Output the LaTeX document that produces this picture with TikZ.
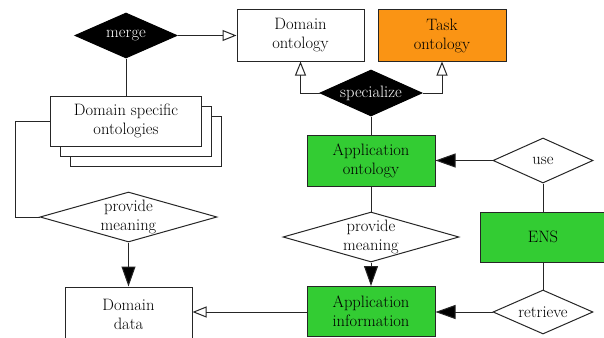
\documentclass[tikz,border=0pt]{standalone}
\usepackage{fontspec}
\usetikzlibrary{shapes.geometric,arrows.meta}
\definecolor{appgreen}{RGB}{51,204,51}
\definecolor{taskorange}{RGB}{250,148,20}
\tikzset{
  txt/.style={font=\fontsize{16.5}{19}\selectfont\addfontfeatures{LetterSpace=6}},
  box/.style={draw=black!85, line width=1pt, fill=white, rectangle, inner sep=0pt, align=center, txt},
  dia/.style={draw=black!85, line width=1pt, fill=white, diamond, inner sep=0pt},
  blackdia/.style={dia, fill=black, draw=black},
  lbl/.style={txt, align=center, inner sep=0pt},
  conn/.style={line width=1pt, draw=black!85},
  openarr/.style={conn, -{Triangle[open,length=14pt,width=11pt]}},
  fillarr/.style={conn, -{Triangle[length=20pt,width=14pt,fill=black]}},
}
\begin{document}
\begin{tikzpicture}[x=1pt,y=-1pt]
\useasboundingbox (0,0) rectangle (604,337);
\clip (0,0) rectangle (604,337);

% top row
\node[blackdia, minimum width=102pt, minimum height=45pt,
  label={[lbl,text=white]center:merge}] (merge) at (126,35.5) {};
\node[box, minimum width=127pt, minimum height=51pt] (domonto) at (300.5,35.5) {Domain\\ontology};
\node[box, fill=taskorange, minimum width=128pt, minimum height=51pt] (taskonto) at (442,35.5) {Task\\ontology};

% domain specific ontologies (stacked)
\node[box, minimum width=151pt, minimum height=50pt] (dso3) at (146,141) {};
\node[box, minimum width=151pt, minimum height=50pt] (dso2) at (136,131) {};
\node[box, minimum width=151pt, minimum height=50pt] (dso) at (126,121) {Domain specific\\ontologies};

% specialize
\node[blackdia, minimum width=102pt, minimum height=46pt,
  label={[lbl,text=white]center:specialize}] (spec) at (371,93) {};

% application ontology
\node[box, fill=appgreen, minimum width=128pt, minimum height=51pt] (appont) at (371,160.5) {Application\\ontology};
\node[dia, minimum width=100pt, minimum height=45pt,
  label={[lbl]center:use}] (use) at (543,160.5) {};

% ENS
\node[box, fill=appgreen, minimum width=126pt, minimum height=50pt] (ens) at (543,237) {ENS};

% provide meaning diamonds
\node[dia, minimum width=176pt, minimum height=50pt,
  label={[lbl]center:provide\\meaning}] (pmR) at (371,237) {};
\node[dia, minimum width=177pt, minimum height=50pt,
  label={[lbl]center:provide\\meaning}] (pmL) at (128.5,217) {};

% bottom row (clipped at the bottom edge)
\node[box, minimum width=127pt, minimum height=54pt] (domdata) at (128.5,314) {Domain\\data};
\node[box, fill=appgreen, minimum width=128pt, minimum height=50pt] (appinfo) at (371,311.5) {Application\\information};
\node[dia, minimum width=100pt, minimum height=44pt,
  label={[lbl]center:retrieve}] (retr) at (543,312) {};

% connectors
\draw[openarr] (merge.east) -- (domonto.west);
\draw[conn] (merge.south) -- (dso.north);
\draw[openarr] (spec.west) -| (domonto.south);
\draw[openarr] (spec.east) -| (taskonto.south);
\draw[conn] (spec.south) -- (appont.north);
\draw[fillarr] (use.west) -- (appont.east);
\draw[conn] (use.south) -- (ens.north);
\draw[conn] (ens.south) -- (retr.north);
\draw[fillarr] (retr.west) -- (retr.west -| appinfo.east);
\draw[conn] (appont.south) -- (pmR.north);
\draw[fillarr] (pmR.south) -- (appinfo.north);
\draw[openarr] (appinfo.west |- retr.west) -- (retr.west -| domdata.east);
\coordinate (lcorner) at (15,121);
\draw[conn] (dso.west) -- (lcorner) |- (pmL.west);
\draw[fillarr] (pmL.south) -- (domdata.north);
\end{tikzpicture}
\end{document}
